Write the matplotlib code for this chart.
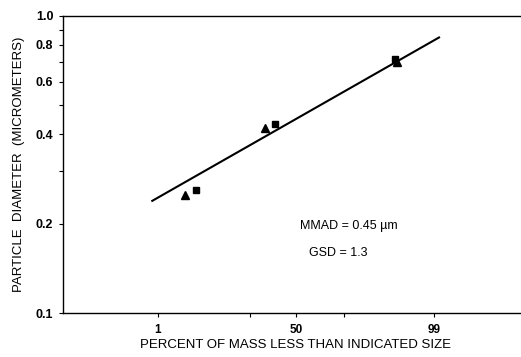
import matplotlib
matplotlib.use("Agg")
import matplotlib.pyplot as plt
from matplotlib.ticker import FixedLocator, NullFormatter
import numpy as np
from statistics import NormalDist

# measured points (percent of mass less than size, diameter in micrometers)
tri_pct = [3.1, 30.0, 95.5]
tri_diam = [0.25, 0.42, 0.70]
sq_pct = [4.7, 36.0, 95.2]
sq_diam = [0.26, 0.433, 0.714]

# log-normal fit
mmad = 0.45
gsd = 1.3
fit_pct = [0.78, 99.2]

x_ticks = [1, 50, 99]
x_minor = [22, 79]
y_ticks = [0.1, 0.2, 0.4, 0.6, 0.8, 1.0]
y_labels = ["0.1", "0.2", "0.4", "0.6", "0.8", "1.0"]
y_minor = [0.3, 0.5, 0.7, 0.9]

nd = NormalDist()


def probit(pcts):
    return np.array([nd.inv_cdf(p / 100.0) for p in pcts])


plt.rcParams['font.family'] = ['Liberation Sans', 'DejaVu Sans']

fig = plt.figure(figsize=(5.21, 3.57), dpi=100)
ax = fig.add_axes([0.121, 0.1232, 0.894, 0.832])

# fitted line
z_fit = probit(fit_pct)
ax.plot(z_fit, mmad * gsd ** z_fit, color='black', lw=1.5, zorder=2)

ax.plot(probit(tri_pct), tri_diam, '^', color='black', ms=5.5, zorder=3)
ax.plot(probit(sq_pct), sq_diam, 's', color='black', ms=5, zorder=4)

ax.set_yscale('log')
ax.set_ylim(0.1, 1.0)
ax.set_xlim(-3.92, 3.92)

ax.yaxis.set_major_locator(FixedLocator(y_ticks))
ax.yaxis.set_minor_locator(FixedLocator(y_minor))
ax.set_yticklabels(y_labels, fontweight='bold', fontsize=9)
ax.yaxis.set_minor_formatter(NullFormatter())

ax.xaxis.set_major_locator(FixedLocator(probit(x_ticks)))
ax.xaxis.set_minor_locator(FixedLocator(probit(x_minor)))
ax.set_xticklabels([str(t) for t in x_ticks], fontweight='bold', fontsize=8.5)

ax.tick_params(which='both', direction='out', length=3, width=0.8, pad=5)
ax.tick_params(axis='y', which='major', pad=4)

for side in ['top', 'bottom', 'left', 'right']:
    ax.spines[side].set_linewidth(1.0)

ax.set_ylabel("PARTICLE  DIAMETER  (MICROMETERS)", fontsize=9.5, labelpad=8)
ax.set_xlabel("PERCENT OF MASS LESS THAN INDICATED SIZE", fontsize=9.5, labelpad=2)

ax.text(0.07, 0.196, "MMAD = 0.45 \u00b5m", fontsize=9, va='center')
ax.text(0.22, 0.159, "GSD = 1.3", fontsize=9, va='center')

fig.savefig("out.png", dpi=100)
